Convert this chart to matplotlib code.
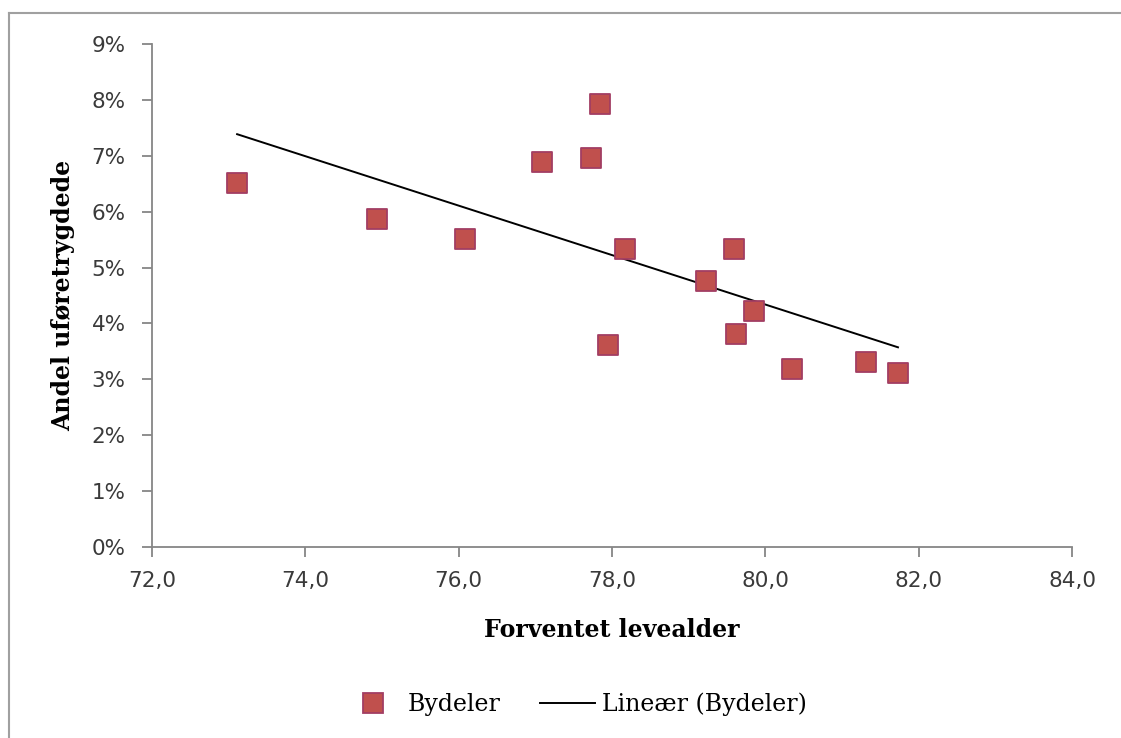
import numpy as np
import matplotlib.pyplot as plt
from matplotlib.lines import Line2D

# forventet levealder (år) og andel uføretrygdede (%) per bydel
levealder = [73.11, 74.93, 76.08, 77.09, 77.73, 77.84, 77.95, 78.17,
             79.23, 79.59, 79.62, 79.85, 80.35, 81.31, 81.73]
andel_ufor = [6.51, 5.87, 5.51, 6.89, 6.96, 7.92, 3.61, 5.33,
              4.76, 5.33, 3.81, 4.22, 3.18, 3.31, 3.11]

x_ticks = [72, 74, 76, 78, 80, 82, 84]
y_ticks = [0, 1, 2, 3, 4, 5, 6, 7, 8, 9]

serif = 'DejaVu Serif'
sans = 'DejaVu Sans'
grey = '#868686'

fig = plt.figure(figsize=(11.21, 7.38), dpi=100)
ax = fig.add_axes([0.1356, 0.2588, 0.8207, 0.6816])

x = np.array(levealder)
y = np.array(andel_ufor)

ax.scatter(x, y, marker='s', s=215, color='#C0504D', edgecolor='#A23E63',
           linewidth=1.3, zorder=3)

# lineær trendlinje
k, m = np.polyfit(x, y, 1)
xs = np.array([x.min(), x.max()])
ax.plot(xs, k * xs + m, color='black', linewidth=1.4, zorder=2)

ax.set_xlim(72, 84)
ax.set_ylim(0, 9)
ax.set_xticks(x_ticks)
ax.set_yticks(y_ticks)
ax.set_xticklabels([f'{v:.1f}'.replace('.', ',') for v in x_ticks])
ax.set_yticklabels([f'{v}%' for v in y_ticks])

for s in ['top', 'right']:
    ax.spines[s].set_visible(False)
for s in ['left', 'bottom']:
    ax.spines[s].set_color(grey)
    ax.spines[s].set_linewidth(1.3)

ax.tick_params(direction='out', length=7, width=1.3, color=grey,
               labelsize=15.5, labelcolor='#3a3a3a')
ax.tick_params(axis='y', pad=12)
ax.tick_params(axis='x', pad=10)
for lab in ax.get_xticklabels() + ax.get_yticklabels():
    lab.set_family(sans)

ax.set_xlabel('Forventet levealder', family=serif, fontweight='bold',
              fontsize=17, labelpad=20)
ax.set_ylabel('Andel uføretrygdede', family=serif, fontweight='bold',
              fontsize=17, labelpad=12)

handles = [
    Line2D([], [], marker='s', linestyle='none', markersize=14.5,
           markerfacecolor='#C0504D', markeredgecolor='#A23E63',
           markeredgewidth=1.3),
    Line2D([], [], color='black', linewidth=1.4),
]
fig.legend(handles, ['Bydeler', 'Lineær (Bydeler)'], loc='center',
           bbox_to_anchor=(0.514, 0.046), ncol=2, frameon=False,
           prop={'family': serif, 'size': 17}, handlelength=2.3,
           columnspacing=1.7, handletextpad=0.3)

# ramme rundt diagrammet (kun topp og venstre synlig)
fig.add_artist(Line2D([9 / 1121, 1], [1 - 13 / 738, 1 - 13 / 738],
                      transform=fig.transFigure, color='#a0a0a0', linewidth=1.5))
fig.add_artist(Line2D([9 / 1121, 9 / 1121], [0, 1 - 13 / 738],
                      transform=fig.transFigure, color='#a0a0a0', linewidth=1.5))

fig.savefig('out.png', dpi=100, facecolor='white')
